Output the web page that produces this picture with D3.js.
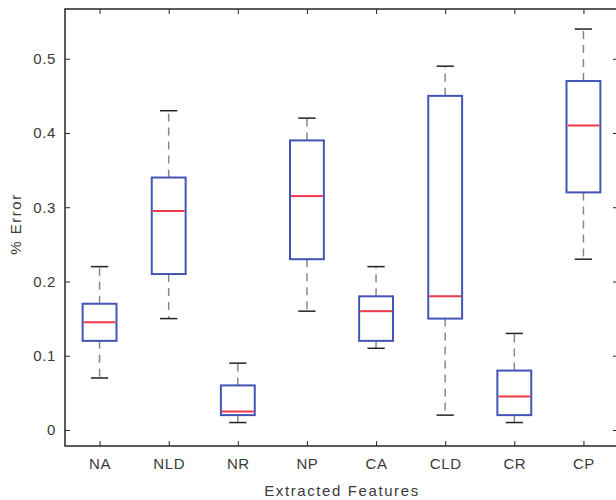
<!DOCTYPE html>
<html>
<head>
<meta charset="utf-8">
<script src="https://cdn.jsdelivr.net/npm/d3@7"></script>
<style>
  body { margin: 0; background: #fff; }
  svg text { font-family: "Liberation Sans", Arial, sans-serif; }
</style>
</head>
<body>
<div id="chart"></div>
<script>
// box plot values
var categories = ["NA", "NLD", "NR", "NP", "CA", "CLD", "CR", "CP"]
var whisker_low = [0.07, 0.15, 0.01, 0.16, 0.11, 0.02, 0.01, 0.23]
var q1 = [0.12, 0.21, 0.02, 0.23, 0.12, 0.15, 0.02, 0.32]
var medians = [0.145, 0.295, 0.025, 0.315, 0.16, 0.18, 0.045, 0.41]
var q3 = [0.17, 0.34, 0.06, 0.39, 0.18, 0.45, 0.08, 0.47]
var whisker_high = [0.22, 0.43, 0.09, 0.42, 0.22, 0.49, 0.13, 0.54]
var y_ticks = [0, 0.1, 0.2, 0.3, 0.4, 0.5]

var width = 616
var height = 500
// note: "top" is a read-only global in browsers, so use plot_* names
var plot_left = 65, plot_right = 618, plot_top = 9, plot_bottom = 446
var axis_color = "#262626"
var text_color = "#3a3a3a"
var tick_len = 5

var svg = d3.select("#chart")
    .append("svg")
    .attr("width", width)
    .attr("height", height)

// MATLAB-style limits: 0.5 .. n + 0.5
var x = d3.scaleLinear()
    .domain([0.5, categories.length + 0.5])
    .range([plot_left, plot_right])

var y = d3.scaleLinear()
    .domain([-0.0216, 0.567])
    .range([plot_bottom, plot_top])

var boxes = categories.map((c, i) => ({
    name: c, pos: i + 1,
    lo: whisker_low[i], q1: q1[i], med: medians[i], q3: q3[i], hi: whisker_high[i]
}))

var half_box = 0.245
var half_cap = 0.125

var g = svg.append("g")

// whiskers (dashed)
g.selectAll(".whisker-up")
    .data(boxes)
    .enter().append("line")
    .attr("x1", (d) => x(d.pos)).attr("x2", (d) => x(d.pos))
    .attr("y1", (d) => y(d.q3)).attr("y2", (d) => y(d.hi))
    .attr("stroke", "#888").attr("stroke-width", 1.5)
    .attr("stroke-dasharray", "8,6")

g.selectAll(".whisker-down")
    .data(boxes)
    .enter().append("line")
    .attr("x1", (d) => x(d.pos)).attr("x2", (d) => x(d.pos))
    .attr("y1", (d) => y(d.q1)).attr("y2", (d) => y(d.lo))
    .attr("stroke", "#888").attr("stroke-width", 1.5)
    .attr("stroke-dasharray", "8,6")

// caps
var caps = boxes.flatMap((d) => [{ pos: d.pos, v: d.hi }, { pos: d.pos, v: d.lo }])
g.selectAll(".cap")
    .data(caps)
    .enter().append("line")
    .attr("x1", (d) => x(d.pos - half_cap)).attr("x2", (d) => x(d.pos + half_cap))
    .attr("y1", (d) => y(d.v)).attr("y2", (d) => y(d.v))
    .attr("stroke", "#222").attr("stroke-width", 1.5)

// boxes
g.selectAll(".box")
    .data(boxes)
    .enter().append("rect")
    .attr("x", (d) => x(d.pos - half_box))
    .attr("width", (d) => x(d.pos + half_box) - x(d.pos - half_box))
    .attr("y", (d) => y(d.q3))
    .attr("height", (d) => y(d.q1) - y(d.q3))
    .attr("fill", "none")
    .attr("stroke", "#4453b8")
    .attr("stroke-width", 2)

// medians
g.selectAll(".median")
    .data(boxes)
    .enter().append("line")
    .attr("x1", (d) => x(d.pos - half_box) + 1).attr("x2", (d) => x(d.pos + half_box) - 1)
    .attr("y1", (d) => y(d.med)).attr("y2", (d) => y(d.med))
    .attr("stroke", "#f03a4a").attr("stroke-width", 2)

// axes: left and bottom with labels, top and right mirrored ticks only
var x_axis = d3.axisBottom(x)
    .tickValues(boxes.map((d) => d.pos))
    .tickFormat((d, i) => categories[i])
    .tickSizeInner(-tick_len).tickSizeOuter(0).tickPadding(12)

var y_axis = d3.axisLeft(y)
    .tickValues(y_ticks)
    .tickFormat(d3.format("~g"))
    .tickSizeInner(-tick_len).tickSizeOuter(0).tickPadding(9)

function style_axis(sel) {
    sel.select(".domain").remove()
    sel.selectAll("line").attr("stroke", axis_color)
    sel.selectAll("text")
        .attr("fill", text_color)
        .style("font-size", "15px")
        .style("letter-spacing", "0.6px")
}

svg.append("g")
    .attr("transform", "translate(0," + plot_bottom + ")")
    .call(x_axis)
    .call(style_axis)

svg.append("g")
    .attr("transform", "translate(" + plot_left + ",0)")
    .call(y_axis)
    .call(style_axis)

svg.append("g")
    .attr("transform", "translate(0," + plot_top + ")")
    .call(d3.axisTop(x).tickValues(boxes.map((d) => d.pos)).tickFormat("").tickSizeInner(-tick_len).tickSizeOuter(0))
    .call(style_axis)

svg.append("g")
    .attr("transform", "translate(" + plot_right + ",0)")
    .call(d3.axisRight(y).tickValues(y_ticks).tickFormat("").tickSizeInner(-tick_len).tickSizeOuter(0))
    .call(style_axis)

// frame
svg.append("rect")
    .attr("x", plot_left).attr("y", plot_top)
    .attr("width", plot_right - plot_left).attr("height", plot_bottom - plot_top)
    .attr("fill", "none")
    .attr("stroke", axis_color)
    .attr("stroke-width", 1.5)

svg.append("text")
    .attr("x", 342)
    .attr("y", 496)
    .style("text-anchor", "middle")
    .style("font-size", "15px")
    .style("letter-spacing", "1.6px")
    .attr("fill", text_color)
    .text("Extracted Features")

svg.append("text")
    .attr("transform", "rotate(-90)")
    .attr("x", -224)
    .attr("y", 21)
    .style("text-anchor", "middle")
    .style("font-size", "15px")
    .style("letter-spacing", "1.5px")
    .attr("fill", text_color)
    .text("% Error")
</script>
</body>
</html>
